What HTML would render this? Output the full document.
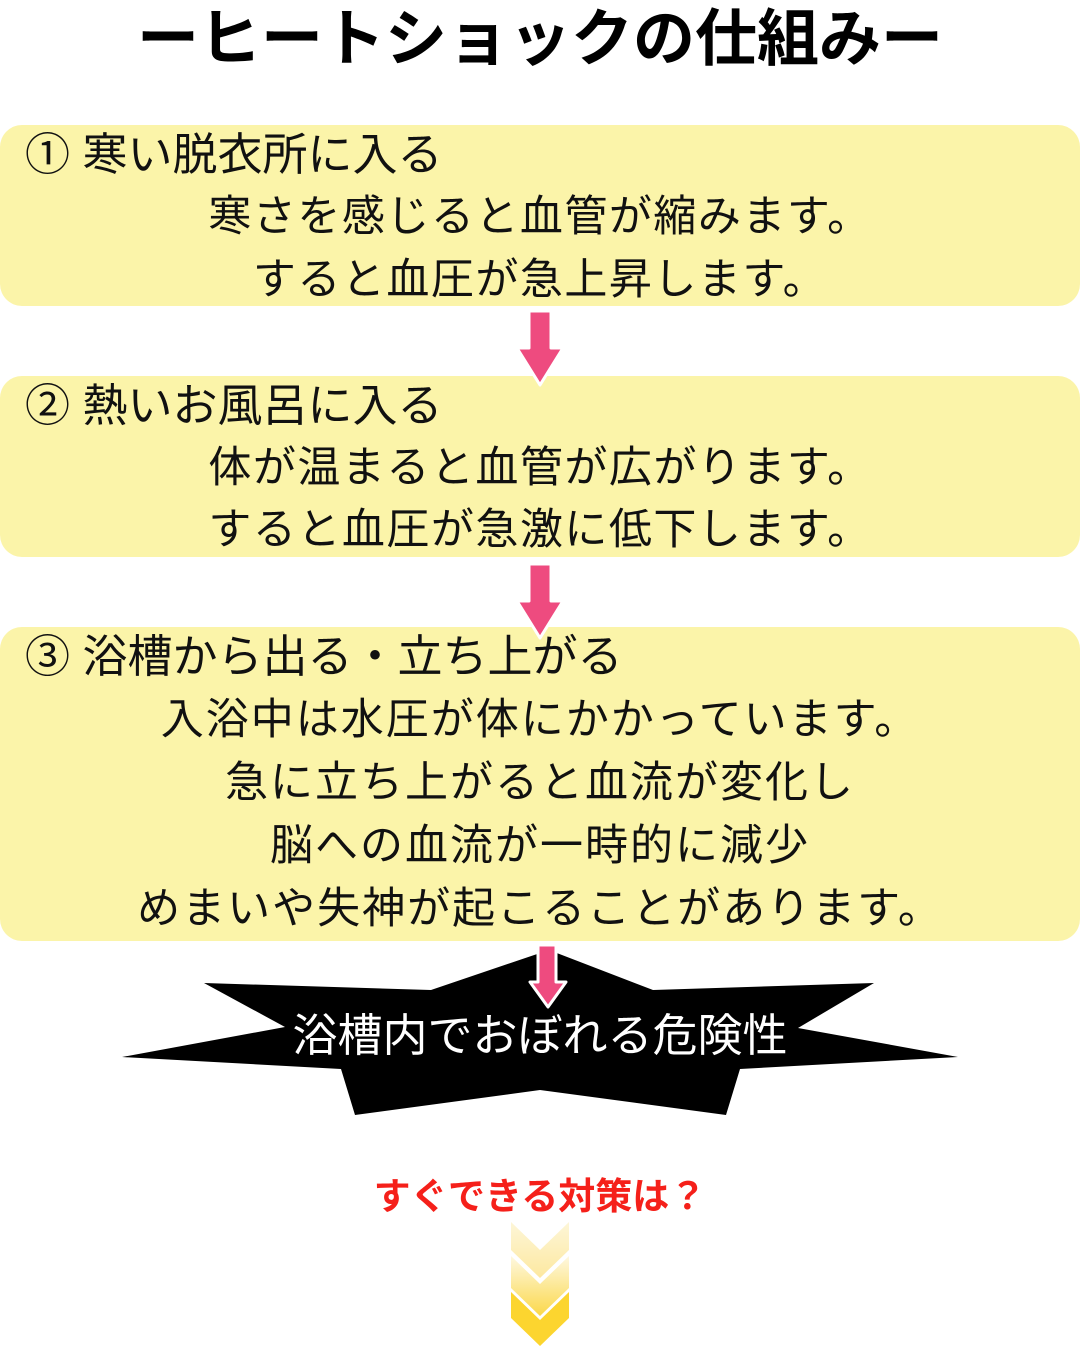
<!DOCTYPE html>
<html><head><meta charset="utf-8"><style>
body{margin:0;width:1080px;height:1350px;background:#fff;position:relative;overflow:hidden;font-family:"Liberation Sans","Noto Sans CJK JP",sans-serif;}
.t{position:absolute;left:0;width:1080px;text-align:center;white-space:nowrap;}
.box{position:absolute;left:0;width:1080px;background:#fbf4a9;border-radius:22px;}
.l{position:absolute;white-space:nowrap;font-size:45px;line-height:1;color:#111;}
.c{position:absolute;left:10px;width:1060px;text-align:center;white-space:nowrap;font-size:43px;letter-spacing:1.5px;line-height:1;color:#111;}
svg{position:absolute;left:0;top:0}
</style></head><body>
<div class="t" style="top:6px;font-size:62px;font-weight:bold;line-height:68px;">ーヒートショックの仕組みー</div>
<div class="box" style="top:125px;height:181px"></div>
<div class="box" style="top:376px;height:181px"></div>
<div class="box" style="top:627px;height:314px"></div>
<div class="l" style="left:25px;top:132px">① 寒い脱衣所に入る</div>
<div class="c" style="top:196px">寒さを感じると血管が縮みます。</div>
<div class="c" style="top:259px">すると血圧が急上昇します。</div>
<div class="l" style="left:25px;top:383px">② 熱いお風呂に入る</div>
<div class="c" style="top:447px">体が温まると血管が広がります。</div>
<div class="c" style="top:509px">すると血圧が急激に低下します。</div>
<div class="l" style="left:25px;top:634px">③ 浴槽から出る・立ち上がる</div>
<div class="c" style="top:699px;letter-spacing:2px">入浴中は水圧が体にかかっています。</div>
<div class="c" style="top:762px;letter-spacing:2px">急に立ち上がると血流が変化し</div>
<div class="c" style="top:825px;letter-spacing:2px">脳への血流が一時的に減少</div>
<div class="c" style="top:888px;letter-spacing:2px">めまいや失神が起こることがあります。</div>
<svg width="1080" height="1350">
<defs><linearGradient id="g1" x1="0" y1="0" x2="0" y2="1"><stop offset="0" stop-color="#fdf6d8"/><stop offset="1" stop-color="#fde8a0"/></linearGradient>
<linearGradient id="g2" x1="0" y1="0" x2="0" y2="1"><stop offset="0" stop-color="#fef8e0"/><stop offset="1" stop-color="#fbd84a"/></linearGradient></defs>
<polygon points="549,950 653,990 874,983 798,1028 958,1057 740,1069 726,1115 540,1090 355,1115 341,1069 122,1057 285,1027 204,983 431,990" fill="#000"/>
<g stroke="#fff" stroke-width="3" fill="#ee4b7f" stroke-linejoin="round">
<polygon points="529,311 551,311 551,348 563,348 540,385 517,348 529,348"/>
<polygon points="529,564 551,564 551,601 563,601 540,638 517,601 529,601"/>
<polygon points="538,945 556,945 556,982 566,982 548,1007 530,982 538,982"/>
</g>
<polygon points="511,1222 540,1250 569,1222 569,1250 540,1278 511,1250" fill="url(#g1)"/>
<polygon points="511,1256 540,1284 569,1256 569,1288 540,1316 511,1288" fill="url(#g2)"/>
<polygon points="511,1292 540,1320 569,1292 569,1318 540,1346 511,1318" fill="#fcd52f"/>
</svg>
<div class="t" style="top:1012px;left:0;width:1080px;font-size:45px;line-height:48px;color:#fff">浴槽内でおぼれる危険性</div>
<div class="t" style="top:1177px;font-size:37px;font-weight:bold;color:#f5201a;line-height:40px;">すぐできる対策は？</div>
</body></html>
